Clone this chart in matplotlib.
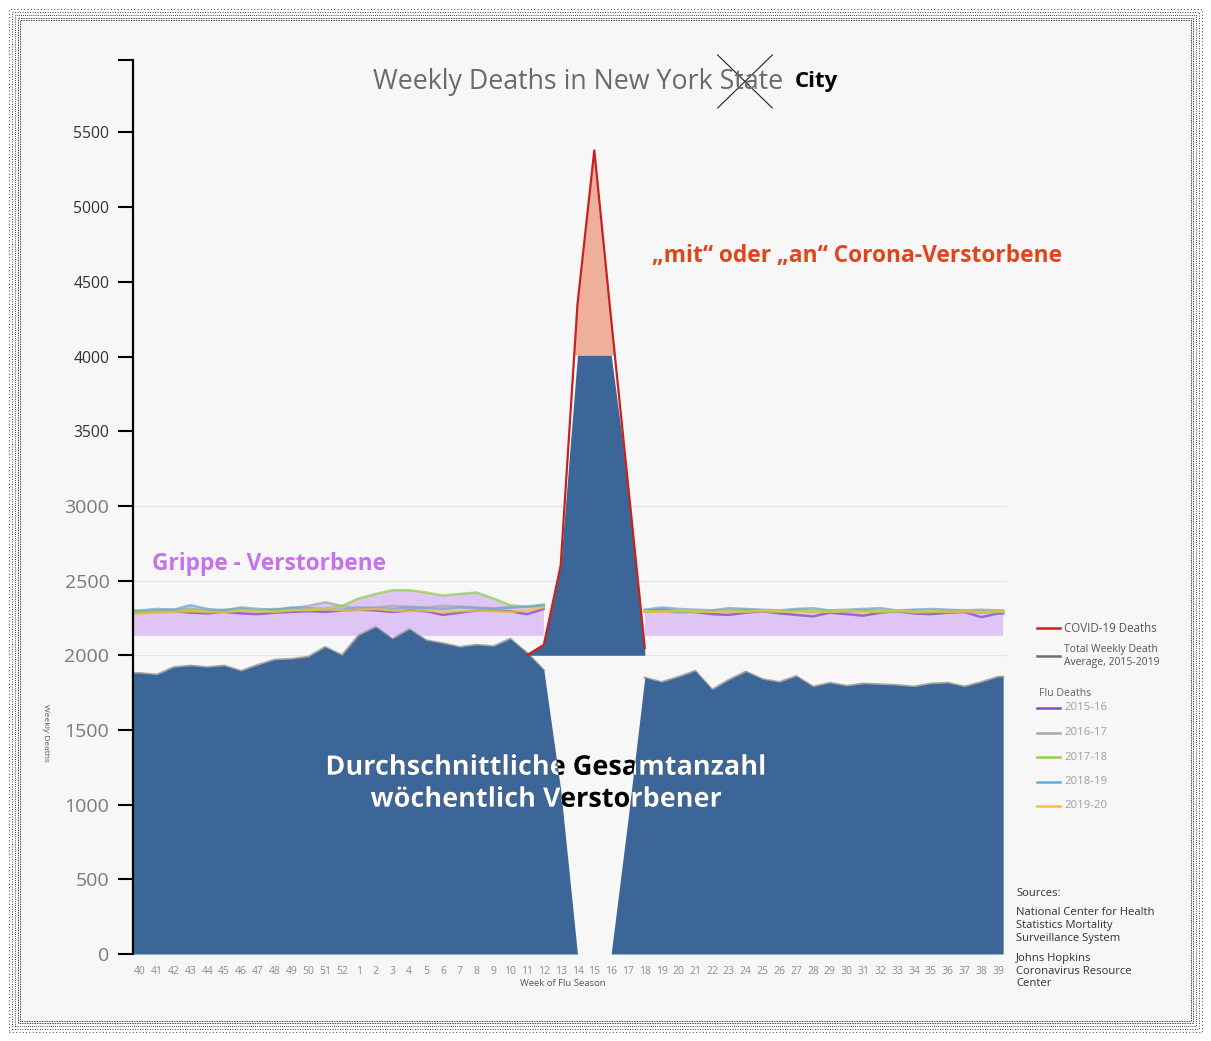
import numpy as np
import matplotlib
matplotlib.use("Agg")
import matplotlib.pyplot as plt
from matplotlib.lines import Line2D
from matplotlib.patches import Rectangle, PathPatch
from matplotlib.textpath import TextPath
from matplotlib.font_manager import FontProperties
from matplotlib.transforms import Affine2D, IdentityTransform

nan = np.nan

# ---------------- data ----------------
week_labels = [str(w) for w in list(range(40, 53)) + list(range(1, 40))]

total_deaths = [1880, 1870, 1920, 1930, 1920, 1930, 1895, 1935, 1970, 1975, 1990, 2055, 2000,
                2135, 2190, 2110, 2175, 2100, 2080, 2055, 2070, 2060, 2110, 2015, 1900,
                1100, 0, 0, 0, 900,
                1850, 1820, 1855, 1895, 1770, 1835, 1890, 1840, 1820, 1860, 1790, 1815, 1795,
                1810, 1805, 1800, 1790, 1810, 1815, 1790, 1820, 1855]

covid_deaths = [nan] * 23 + [2000, 2070, 2600, 4350, 5380, 4250, 3150, 2050] + [nan] * 21

GAP = [nan] * 5
flu_1516 = [2285, 2290, 2295, 2285, 2280, 2290, 2280, 2275, 2285, 2290, 2295, 2290, 2300,
            2305, 2300, 2290, 2300, 2295, 2270, 2285, 2300, 2300, 2295, 2275, 2310] + GAP + \
           [2300, 2305, 2295, 2290, 2275, 2270, 2285, 2295, 2280, 2270, 2260, 2285, 2275,
            2265, 2285, 2295, 2280, 2275, 2285, 2290, 2255, 2280]
flu_1617 = [2295, 2300, 2305, 2310, 2295, 2305, 2310, 2300, 2305, 2315, 2330, 2355, 2330,
            2310, 2320, 2330, 2325, 2320, 2330, 2325, 2320, 2315, 2320, 2325, 2340] + GAP + \
           [2290, 2295, 2285, 2290, 2300, 2295, 2300, 2290, 2295, 2300, 2290, 2295, 2290,
            2300, 2295, 2290, 2285, 2290, 2295, 2290, 2285, 2290]
flu_1718 = [2290, 2295, 2300, 2305, 2300, 2295, 2305, 2300, 2310, 2305, 2300, 2310, 2330,
            2380, 2410, 2435, 2435, 2420, 2400, 2410, 2420, 2380, 2335, 2325, 2330] + GAP + \
           [2290, 2300, 2295, 2290, 2295, 2300, 2305, 2295, 2290, 2300, 2295, 2290, 2300,
            2295, 2290, 2295, 2300, 2290, 2295, 2300, 2290, 2295]
flu_1819 = [2300, 2310, 2305, 2335, 2310, 2300, 2320, 2310, 2305, 2320, 2315, 2310, 2305,
            2320, 2315, 2310, 2320, 2315, 2310, 2320, 2315, 2310, 2320, 2325, 2335] + GAP + \
           [2305, 2320, 2310, 2305, 2300, 2315, 2310, 2305, 2300, 2310, 2315, 2300, 2305,
            2310, 2315, 2300, 2305, 2310, 2305, 2300, 2305, 2300]
flu_1920 = [2280, 2285, 2290, 2295, 2290, 2285, 2300, 2295, 2290, 2300, 2305, 2310, 2300,
            2305, 2310, 2300, 2295, 2300, 2290, 2295, 2300, 2295, 2290, 2300, 2320] + GAP + \
           [2295, 2290, 2300, 2295, 2290, 2295, 2290, 2300, 2295, 2290, 2295, 2290, 2300,
            2290, 2295, 2300, 2290, 2295, 2290, 2295, 2290, 2295]

flu_seasons = ["2015-16", "2016-17", "2017-18", "2018-19", "2019-20"]
flu_series = [flu_1516, flu_1617, flu_1718, flu_1819, flu_1920]
flu_colors = ["#7b4cc4", "#a8a8a8", "#93d04f", "#6aaad8", "#f2c232"]

FLU_BAND_BASE = 2130
COVID_BASE = 2000
COVID_CUT = 4010

y_ticks = [0, 500, 1000, 1500, 2000, 2500, 3000, 3500, 4000, 4500, 5000, 5500]
Y_TOP = 5985

legend_labels = ["COVID-19 Deaths", "Total Weekly Death\nAverage, 2015-2019"]
legend_colors = ["#cc2020", "#707070"]
sources_text = ["Sources:",
                "National Center for Health\nStatistics Mortality\nSurveillance System",
                "Johns Hopkins\nCoronavirus Resource\nCenter"]
center_lines = ["Durchschnittliche Gesamtanzahl", "w\u00f6chentlich Verstorbener"]

# ---------------- figure ----------------
W, H = 1211, 1041
FONT = ["Open Sans", "DejaVu Sans"]
plt.rcParams["font.family"] = FONT

fig = plt.figure(figsize=(W / 100, H / 100), dpi=100, facecolor="white")


def fx(px):
    return px / W


def fy(py):
    return 1 - py / H


# page background and dotted frame
fig.patches.append(Rectangle((fx(21), fy(1021)), fx(1192) - fx(21), fy(21) - fy(1021),
                             transform=fig.transFigure, facecolor="#f7f7f7",
                             edgecolor="none", zorder=-5))
for off, ls in [(9, (0, (1, 3))), (12, (0, (1, 2))), (15, (0, (1, 1.5))), (18, (0, (1, 1))),
                (20, (0, (1, 1)))]:
    fig.patches.append(Rectangle((fx(off), fy(H - off)), fx(W - 2 * off), fy(0) - fy(H - 2 * off),
                                 transform=fig.transFigure, fill=False, edgecolor="black",
                                 lw=0.6, linestyle=ls, zorder=-4))

ax = fig.add_axes([fx(133), fy(954), (1006.5 - 133) / W, (954 - 60) / H])
ax.patch.set_visible(False)

idx = np.arange(len(week_labels))
xe = np.r_[-0.42, idx, 51.3]


def ext(v):
    v = np.asarray(v, dtype=float)
    return np.r_[v[0], v, v[-1]]


total = np.asarray(total_deaths, dtype=float)
total_line = total.copy()
total_line[25:30] = nan

# gridlines
for g in [2000, 2500, 3000]:
    ax.axhline(g, color="#e3e3e3", lw=0.8, zorder=0.5)

# flu band and lines
flu_max = np.nanmax(np.vstack([np.asarray(s, float) for s in flu_series]), axis=0)
ax.fill_between(xe, FLU_BAND_BASE, ext(flu_max), color="#dfc5f5", lw=0, zorder=1)
for s, c in zip(flu_series, flu_colors):
    ax.plot(xe, ext(s), color=c, lw=1.8, alpha=0.75, zorder=2)

# total weekly deaths (blue area)
ax.plot(xe, ext(total_line), color="#a5a5a5", lw=1.6, zorder=2.5)
lower = ax.fill_between(xe, 0, ext(total), color="#3b6697", lw=0, zorder=3)

# covid peak pieces
cov = np.asarray(covid_deaths, dtype=float)
ax.fill_between(idx, COVID_BASE, np.minimum(cov, COVID_CUT), color="#3b6697", lw=0, zorder=3)
ax.fill_between(idx, COVID_CUT, cov, where=cov > COVID_CUT, interpolate=True,
                color="#eeb09a", lw=0, zorder=3)
ax.plot(idx, cov, color="#c8221e", lw=1.6, zorder=4)

# axes styling
ax.set_xlim(-0.42, 51.5)
ax.set_ylim(0, Y_TOP)
for sp in ["top", "right", "bottom"]:
    ax.spines[sp].set_visible(False)
ax.spines["left"].set_linewidth(1.6)
ax.spines["left"].set_color("black")
ax.spines["left"].set_zorder(6)

ax.set_yticks(y_ticks + [Y_TOP])
ax.set_yticklabels([str(v) for v in y_ticks] + [""])
ax.tick_params(axis="y", length=11, width=1.5, color="black", pad=6)
for lbl, v in zip(ax.get_yticklabels(), y_ticks + [Y_TOP]):
    if v <= 3000:
        lbl.set_fontsize(14)
        lbl.set_color("#7a7a7a")
    else:
        lbl.set_fontsize(11.3)
        lbl.set_color("#333333")

ax.set_xticks(idx)
ax.set_xticklabels(week_labels, fontsize=7.5, color="#8c8c8c")
ax.tick_params(axis="x", length=0, pad=9)

# axis titles
fig.text(fx(563), fy(983), "Week of Flu Season", fontsize=6.8, color="#555555",
         ha="center", va="center")
fig.text(fx(45), fy(733), "Weekly Deaths", fontsize=6, color="#555555",
         rotation=270, ha="center", va="center")

# title with crossed-out "State"
title_kw = dict(fontsize=19.3, color="#6a6a6a", va="center", ha="left")
t_full = fig.text(fx(373), fy(82), "Weekly Deaths in New York State", **title_kw)
fig.canvas.draw()
rend = fig.canvas.get_renderer()
bb_full = t_full.get_window_extent(rend)
t_tmp = fig.text(0, 0, "State", **title_kw)
ws = t_tmp.get_window_extent(rend).width
t_tmp.remove()
sx0 = bb_full.x1 - ws
cy = (bb_full.y0 + bb_full.y1) / 2
for (xa, ya, xb, yb) in [(sx0 - 2, cy + 27, sx0 + 0.83 * ws, cy - 26),
                         (sx0 - 2, cy - 26, sx0 + 0.83 * ws, cy + 27)]:
    fig.lines.append(Line2D([xa / W, xb / W], [ya / H, yb / H], transform=fig.transFigure,
                            color="#222222", lw=0.8))
fig.text((bb_full.x1 + 12) / W, fy(81), "City", fontsize=16, fontweight="bold",
         color="black", va="center", ha="left")

# annotations
fig.text(fx(652), fy(256), "\u201emit\u201c oder \u201ean\u201c Corona-Verstorbene", fontsize=16.4,
         fontweight="bold", color="#e3441c", va="center", ha="left")
fig.text(fx(152), fy(564), "Grippe - Verstorbene", fontsize=16.3, fontweight="bold",
         color="#c872ea", va="center", ha="left")

# centre text: black on the white gap, white on the blue area (knock-out)
fp_bold = FontProperties(family="Open Sans", weight="bold")
size_px = 19.5 * 100 / 72
clip_path = lower.get_paths()[0]
for line, ycen in zip(center_lines, [765, 797]):
    tp = TextPath((0, 0), line, size=size_px, prop=fp_bold)
    e = tp.get_extents()
    tr = Affine2D().translate(546 - (e.x0 + e.x1) / 2, (H - ycen) - 0.36 * size_px)
    pb = PathPatch(tp, transform=tr + IdentityTransform(), facecolor="black",
                   edgecolor="none", zorder=10)
    fig.add_artist(pb)
    pw = PathPatch(tp, transform=tr + IdentityTransform(), facecolor="white",
                   edgecolor="none", zorder=11)
    fig.add_artist(pw)
    pw.set_clip_path(clip_path, ax.transData)

# legend (manual layout)
leg_y = [628, 656]
for lab, c, yy in zip(legend_labels, legend_colors, leg_y):
    fig.lines.append(Line2D([fx(1037), fx(1060)], [fy(yy), fy(yy)], transform=fig.transFigure,
                            color=c, lw=1.8))
    fig.text(fx(1064), fy(yy), lab, fontsize=7.5 if "\n" in lab else 8.3,
             color="#555555", va="center", ha="left", linespacing=1.15)
fig.text(fx(1039), fy(694), "Flu Deaths", fontsize=7.7, color="#666666", va="center", ha="left")
for i, (lab, c) in enumerate(zip(flu_seasons, flu_colors)):
    yy = 708 + 24.5 * i
    fig.lines.append(Line2D([fx(1037), fx(1060)], [fy(yy), fy(yy)], transform=fig.transFigure,
                            color=c, lw=1.8))
    fig.text(fx(1064), fy(yy), lab, fontsize=8.2, color="#a0a0a0", va="center", ha="left")

# sources
src_y = [893, 925.5, 971]
for s, yy in zip(sources_text, src_y):
    fig.text(fx(1016), fy(yy), s, fontsize=8.1, color="#333333", va="center", ha="left",
             linespacing=1.2)

fig.savefig("out.png", dpi=100, facecolor="white")
